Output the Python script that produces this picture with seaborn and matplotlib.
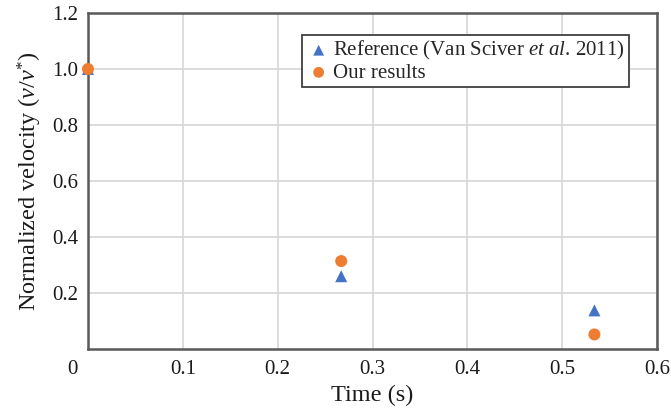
import numpy as np
import pandas as pd
import seaborn as sns
import matplotlib
matplotlib.use("Agg")
import matplotlib.pyplot as plt
from matplotlib.transforms import ScaledTranslation

# Normalized particle velocity over time
time_ref = [0.0, 0.267, 0.534]
vel_ref = [1.0, 0.26, 0.138]
time_ours = [0.0, 0.267, 0.534]
vel_ours = [1.0, 0.314, 0.052]

label_ref = r"Reference (Van Sciver $\mathit{et\ al}$. 2011)"
label_ours = "Our results"

x_ticks = [0, 0.1, 0.2, 0.3, 0.4, 0.5, 0.6]
x_ticklabels = ["0", "0.1", "0.2", "0.3", "0.4", "0.5", "0.6"]
y_ticks = [0.2, 0.4, 0.6, 0.8, 1.0, 1.2]
y_ticklabels = ["0.2", "0.4", "0.6", "0.8", "1.0", "1.2"]

sns.set_theme(style="white")
plt.rcParams["font.family"] = ["Liberation Serif", "DejaVu Serif"]
plt.rcParams["mathtext.fontset"] = "custom"
plt.rcParams["mathtext.rm"] = "Liberation Serif"
plt.rcParams["mathtext.it"] = "Liberation Serif:italic"

df_ref = pd.DataFrame({"t": time_ref, "v": vel_ref})
df_ours = pd.DataFrame({"t": time_ours, "v": vel_ours})

fig = plt.figure(figsize=(6.71, 4.15), dpi=100)
ax = fig.add_axes([88 / 671, 1 - 349 / 415, (657 - 88) / 671, (349 - 13) / 415])

blue = "#4472C4"
orange = "#ED7D31"

sns.scatterplot(data=df_ref, x="t", y="v", ax=ax, marker="^", s=75,
                color=blue, edgecolor="none", label=label_ref, zorder=3,
                clip_on=False)
sns.scatterplot(data=df_ours, x="t", y="v", ax=ax, marker="o", s=75,
                color=orange, edgecolor="none", label=label_ours, zorder=4,
                clip_on=False)

ax.set_xlim(0, 0.6)
ax.set_ylim(0, 1.2)
ax.set_xticks(x_ticks)
ax.set_xticklabels(x_ticklabels)
ax.set_yticks(y_ticks)
ax.set_yticklabels(y_ticklabels)

ax.grid(True, color="#d9d9d9", linewidth=1.3)
ax.set_axisbelow(True)
for sp in ax.spines.values():
    sp.set_color("#595959")
    sp.set_linewidth(1.8)
    sp.set_visible(True)

ax.tick_params(axis="both", which="both", length=0, labelsize=15,
               colors="#1a1a1a")
ax.tick_params(axis="x", pad=8)
ax.tick_params(axis="y", pad=7)

# shift the origin label a little to the left of the corner
lbl0 = ax.get_xticklabels()[0]
lbl0.set_transform(lbl0.get_transform() + ScaledTranslation(-16 / 100, 0, fig.dpi_scale_trans))

ax.set_xlabel("Time (s)", fontsize=17.5, color="#1a1a1a", labelpad=4)
ax.set_ylabel(r"Normalized velocity ($v/v^{*}$)", fontsize=17.5,
              color="#1a1a1a", labelpad=6)

leg = ax.legend(loc="upper left", bbox_to_anchor=((302 - 88) / 569, 1 - (35 - 13) / 336),
                fontsize=15, frameon=True, fancybox=False, framealpha=1,
                edgecolor="#404040", handletextpad=0.1, borderpad=0.2,
                labelspacing=0.05, handlelength=1.2, borderaxespad=0,
                markerscale=0.9)
leg.get_frame().set_linewidth(1.3)

fig.savefig("out.png", dpi=100)
